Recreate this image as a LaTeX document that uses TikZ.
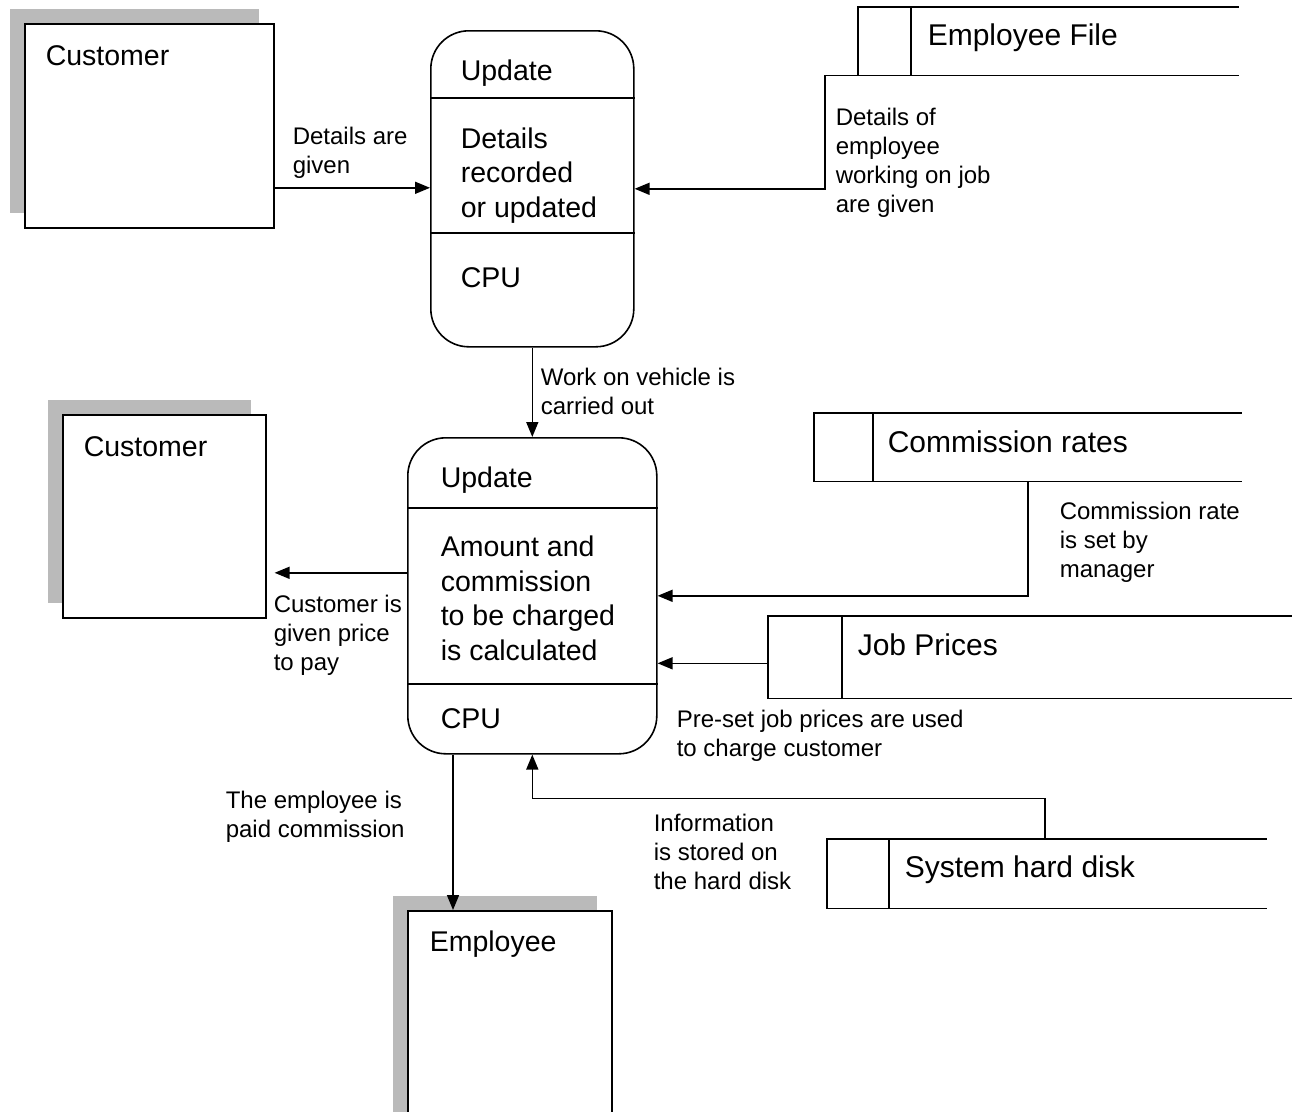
\documentclass[tikz,border=0pt]{standalone}
\usepackage{fontspec}
\setmainfont{Liberation Sans}
\usetikzlibrary{positioning,arrows.meta,shadows}

\tikzset{
  entity/.style={draw,fill=white,rectangle,inner sep=0pt,anchor=north west,
    drop shadow={shadow xshift=-15pt,shadow yshift=15pt,fill=black!27,opacity=1}},
  process/.style={draw,rectangle,rounded corners=38pt,inner sep=0pt,anchor=north west},
  store/.style={rectangle,inner sep=0pt,anchor=north west,minimum width=#1,minimum height=67pt},
  bigtext/.style={font=\fontsize{28.5}{34.5}\selectfont,anchor=base west,inner sep=0pt,align=left},
  storetext/.style={font=\fontsize{30}{36}\selectfont,anchor=base west,inner sep=0pt},
  lbl/.style={font=\fontsize{24}{29}\selectfont,anchor=base west,inner sep=0pt,align=left}
}

\begin{document}
\begin{tikzpicture}[x=1pt,y=-1pt,>={Triangle[length=15pt,width=12pt]},line width=1.6pt]
  \path[use as bounding box] (0,0) rectangle (1292,1111);
  \clip (0,0) rectangle (1292,1111);

  \node[entity,minimum width=249pt,minimum height=204pt] (cust1) at (24,23) {};
  \node[entity,minimum width=203pt,minimum height=203pt] (cust2) at (62,414) {};
  \node[entity,minimum width=204pt,minimum height=230pt] (emp)   at (407,910) {};
  \node[bigtext] (cust1t) at (45,65)  {Customer};
  \node[bigtext] (cust2t) at (83,456) {Customer};
  \node[bigtext] (empt)   at (429,951) {Employee};

  \node[process,minimum width=203pt,minimum height=316pt] (p1) at (430,30) {};
  \node[process,minimum width=249pt,minimum height=316pt] (p2) at (407,437) {};
  \foreach \p/\d in {p1/68,p1/203,p2/71,p2/247}
    \draw ([yshift=-\d pt]\p.north west) -- ([yshift=-\d pt]\p.north east);
  \node[bigtext] (p1a) at (460,80)  {Update};
  \node[bigtext] (p1b) at (460,217) {Details\\recorded\\or updated};
  \node[bigtext] (p1c) at (460,287) {CPU};
  \node[bigtext] (p2a) at (440,487) {Update};
  \node[bigtext] (p2b) at (440,660) {Amount and\\commission\\to be charged\\is calculated};
  \node[bigtext] (p2c) at (440,728) {CPU};

  \node[store=379pt] (efile) at (858,7) {};
  \node[store=426pt] (rates) at (814,413) {};
  \node[store=540pt,minimum height=81pt] (prices) at (768,616) {};
  \node[store=438pt,minimum height=68pt] (disk) at (827,839) {};
  \foreach \s/\d in {efile/53,rates/59,prices/74,disk/62}
    \draw (\s.north east) -- (\s.north west) -- (\s.south west) -- (\s.south east)
          ([xshift=\d pt]\s.north west) -- ([xshift=\d pt]\s.south west);
  \node[storetext] (efilet)  at (927,45)  {Employee File};
  \node[storetext] (ratest)  at (887,452) {Commission rates};
  \node[storetext] (pricest) at (857,655) {Job Prices};
  \node[storetext] (diskt)   at (904,877) {System hard disk};

  \draw[->] ([yshift=-62pt]cust1.east) -- ([yshift=-62pt]cust1.east -| p1.west);
  \draw[->] ([xshift=157pt]efile.south west) -- ([xshift=-33pt]efile.south west) |- (p1.east);
  \draw[->] (p1.south) -- (p2.north);
  \draw[->,shorten >=8pt] ([yshift=23pt]p2.west) -- ([yshift=23pt]p2.west -| cust2.east);
  \draw[->] ([xshift=214pt]rates.south west) |- (p2.east);
  \draw[->] ([yshift=-6pt]prices.west) -- ([yshift=-6pt]prices.west -| p2.east);
  \draw[->] ([xshift=218pt]disk.north west) |- ([yshift=-44pt]p2.south) -- (p2.south);
  \draw[->] ([xshift=46pt]emp.north west |- p2.south) -- ([xshift=46pt]emp.north west);

  \node[lbl] (l1) at (292,173)  {Details are\\given};
  \node[lbl] (l2) at (835,212)  {Details of\\employee\\working on job\\are given};
  \node[lbl] (l3) at (540,414)  {Work on vehicle is\\carried out};
  \node[lbl] (l4) at (273,670)  {Customer is\\given price\\to pay};
  \node[lbl] (l5) at (1059,577) {Commission rate\\is set by\\manager};
  \node[lbl] (l6) at (676,756)  {Pre-set job prices are used\\to charge customer};
  \node[lbl] (l7) at (653,889)  {Information\\is stored on\\the hard disk};
  \node[lbl] (l8) at (225,837)  {The employee is\\paid commission};
\end{tikzpicture}
\end{document}
